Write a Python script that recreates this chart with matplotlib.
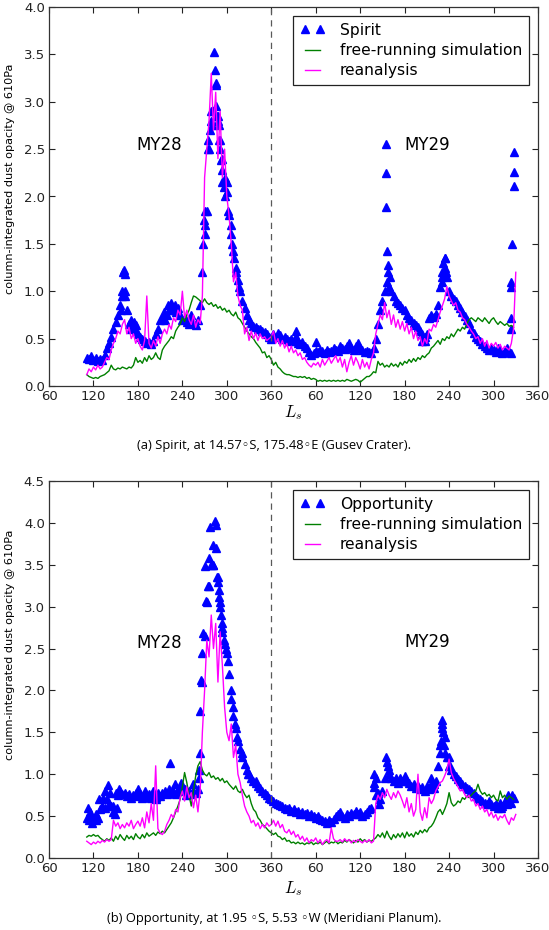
import numpy as np
import matplotlib
matplotlib.use("Agg")
import matplotlib.pyplot as plt

plt.rcParams['mathtext.fontset'] = 'cm'
plt.rcParams['font.family'] = ['DejaVu Sans']

# Ls grid: cumulative solar longitude (MY28 = Ls, MY29 = Ls + 360), sampled every 3 deg from 111
LS_START = 111
LS_STEP = 3

xtick_pos = [60, 120, 180, 240, 300, 360, 420, 480, 540, 600, 660, 720]
xtick_labels = ["60", "120", "180", "240", "300", "360", "60", "120", "180", "240", "300", "360"]

# ---------------- Spirit ----------------
spirit_obs = [
    0.30, 0.28, 0.32, 0.27, 0.30, 0.26, 0.29, 0.27, 0.33, 0.40,
    0.45, 0.52, 0.60, 0.68, 0.75, 0.85, 0.95, 1.00, 0.80, 0.65,
    0.60, 0.62, 0.58, 0.55, 0.52, 0.50, 0.47, 0.45, 0.46, 0.44,
    0.48, 0.55, 0.60, 0.70, 0.72, 0.70, 0.75, 0.80, 0.85, 0.80,
    0.78, 0.82, 0.75, 0.70, 0.72, 0.68, 0.65, 0.70, 0.66, 0.64,
    0.70, 0.85, 1.20, 1.60, 1.85, 2.50, 2.80, 2.90, 3.20, 2.85,
    2.60, 2.40, 2.20, 2.05, 1.80, 1.60, 1.42, 1.25, 1.12, 1.00,
    0.90, 0.82, 0.75, 0.70, 0.66, 0.63, 0.62, 0.60, 0.60, 0.58,
    0.57, 0.55, 0.52, 0.50, 0.55, 0.52, 0.56, 0.54, 0.50, 0.52,
    0.50, 0.48, 0.50, 0.47, 0.52, 0.45, 0.44, 0.46, 0.42, 0.40,
    0.36, 0.33, 0.35, 0.37, 0.36, 0.38, 0.37, 0.35, 0.38, 0.36,
    0.37, 0.40, 0.38, 0.37, 0.42, 0.40, 0.39, 0.42, 0.45, 0.40,
    0.38, 0.42, 0.45, 0.40, 0.38, 0.36, 0.37, 0.36, 0.35, 0.40,
    0.50, 0.65, 0.80, 0.90, 1.00, 1.10, 1.05, 1.00, 0.95, 0.90,
    0.88, 0.85, 0.82, 0.80, 0.75, 0.72, 0.70, 0.66, 0.64, 0.62,
    0.58, 0.55, 0.52, 0.55, 0.72, 0.75, 0.73, 0.76, 0.85, 1.05,
    1.15, 1.25, 1.15, 1.00, 0.95, 0.92, 0.90, 0.86, 0.82, 0.78,
    0.74, 0.70, 0.66, 0.60, 0.56, 0.52, 0.50, 0.47, 0.44, 0.42,
    0.40, 0.38, 0.40, 0.38, 0.36, 0.40, 0.38, 0.35, 0.37, 0.40,
    0.36, 0.35,
]
spirit_extra_ls = [158, 160, 161, 162, 163, 157, 170, 175, 178, 215, 220, 224, 230, 252,
                   268, 269, 270, 271, 274, 275, 277, 278, 280, 283, 284, 285, 286, 287,
                   288, 289, 290, 291, 292, 293, 294, 296, 298, 300, 301, 305, 307, 310,
                   313, 316,
                   393, 394, 421, 515, 515, 515, 516, 517, 518, 520, 590, 591, 592, 594,
                   595, 596, 564, 567, 683, 683, 684, 684, 685, 687, 687, 688]
spirit_extra_tau = [1.00, 1.20, 1.22, 1.18, 0.95, 0.80, 0.70, 0.68, 0.64, 0.78, 0.85, 0.88, 0.85, 0.75,
                    1.50, 1.75, 1.85, 1.70, 2.50, 2.60, 2.70, 2.90, 2.75, 3.52, 3.33, 3.18, 2.95, 2.85,
                    2.80, 2.75, 2.60, 2.50, 2.38, 2.28, 2.15, 2.10, 2.00, 2.15, 1.85, 1.70, 1.50, 1.35,
                    1.20, 1.05,
                    0.58, 0.52, 0.46, 2.55, 2.25, 1.89, 1.43, 1.28, 1.20, 1.15, 1.10, 1.20, 1.30, 1.35,
                    1.35, 1.20, 0.48, 0.48, 0.60, 0.72, 1.05, 1.10, 1.50, 2.47, 2.26, 2.11]
spirit_rean = [
    0.12, 0.18, 0.15, 0.20, 0.17, 0.22, 0.18, 0.20, 0.25, 0.30,
    0.28, 0.38, 0.45, 0.50, 0.58, 0.55, 0.65, 0.70, 0.55, 0.62,
    0.50, 0.55, 0.45, 0.50, 0.42, 0.38, 0.48, 0.95, 0.45, 0.40,
    0.48, 0.42, 0.52, 0.45, 0.55, 0.60, 0.55, 0.65, 0.60, 0.72,
    0.68, 0.80, 0.75, 1.00, 0.72, 0.80, 0.70, 0.65, 0.75, 0.62,
    0.70, 0.66, 0.95, 2.20, 2.50, 2.80, 3.30, 2.70, 3.10, 2.40,
    2.90, 2.20, 2.50, 2.00, 1.80, 1.50, 1.10, 1.20, 0.95, 0.85,
    0.80, 0.55, 0.62, 0.48, 0.58, 0.50, 0.56, 0.48, 0.55, 0.50,
    0.52, 0.48, 0.50, 0.52, 0.58, 0.45, 0.50, 0.42, 0.48, 0.40,
    0.45, 0.36, 0.42, 0.35, 0.38, 0.32, 0.35, 0.28, 0.30, 0.25,
    0.22, 0.20, 0.24, 0.22, 0.25, 0.20, 0.28, 0.22, 0.26, 0.30,
    0.24, 0.28, 0.32, 0.25, 0.30, 0.20, 0.28, 0.15, 0.25, 0.32,
    0.22, 0.30, 0.25, 0.18, 0.28, 0.20, 0.25, 0.18, 0.28, 0.35,
    0.55, 0.65, 0.75, 0.70, 0.88, 0.72, 0.80, 0.65, 0.75, 0.62,
    0.70, 0.60, 0.68, 0.58, 0.66, 0.55, 0.62, 0.50, 0.58, 0.48,
    0.52, 0.42, 0.50, 0.45, 0.60, 0.58, 0.65, 0.62, 0.70, 0.78,
    0.85, 0.92, 1.05, 0.95, 0.90, 0.85, 0.88, 0.80, 0.78, 0.72,
    0.70, 0.65, 0.62, 0.58, 0.55, 0.50, 0.52, 0.45, 0.50, 0.42,
    0.48, 0.40, 0.45, 0.42, 0.46, 0.40, 0.44, 0.38, 0.42, 0.40,
    0.38, 0.45, 0.60, 1.20,
]
spirit_free = [
    0.12, 0.10, 0.09, 0.08, 0.09, 0.08, 0.10, 0.11, 0.12, 0.14,
    0.16, 0.22, 0.18, 0.17, 0.19, 0.18, 0.20, 0.19, 0.18, 0.20,
    0.19, 0.22, 0.30, 0.25, 0.27, 0.24, 0.30, 0.26, 0.32, 0.28,
    0.30, 0.35, 0.30, 0.28, 0.38, 0.42, 0.45, 0.48, 0.52, 0.50,
    0.58, 0.62, 0.65, 0.72, 0.68, 0.75, 0.80, 0.88, 0.95, 0.94,
    0.92, 0.90, 0.88, 0.92, 0.88, 0.86, 0.88, 0.84, 0.86, 0.82,
    0.84, 0.80, 0.82, 0.78, 0.80, 0.76, 0.74, 0.78, 0.72, 0.70,
    0.66, 0.62, 0.58, 0.55, 0.52, 0.50, 0.46, 0.43, 0.40, 0.35,
    0.36, 0.30, 0.32, 0.28, 0.22, 0.25, 0.20, 0.18, 0.15, 0.13,
    0.12, 0.12, 0.11, 0.10, 0.10, 0.09, 0.10, 0.09, 0.10, 0.08,
    0.09, 0.07, 0.08, 0.07, 0.05, 0.06, 0.05, 0.06, 0.05, 0.06,
    0.05, 0.06, 0.05, 0.06, 0.05, 0.06, 0.05, 0.07, 0.06, 0.05,
    0.06, 0.07, 0.06, 0.04, 0.06, 0.08, 0.10, 0.10, 0.12, 0.15,
    0.14, 0.26, 0.22, 0.24, 0.20, 0.22, 0.20, 0.24, 0.21, 0.23,
    0.20, 0.25, 0.22, 0.26, 0.24, 0.28, 0.25, 0.29, 0.26, 0.30,
    0.28, 0.32, 0.30, 0.33, 0.35, 0.40, 0.42, 0.45, 0.48, 0.44,
    0.50, 0.48, 0.52, 0.50, 0.55, 0.52, 0.56, 0.60, 0.58, 0.62,
    0.60, 0.66, 0.70, 0.72, 0.70, 0.68, 0.72, 0.70, 0.68, 0.72,
    0.69, 0.66, 0.70, 0.72, 0.68, 0.65, 0.68, 0.66, 0.64, 0.66,
    0.63, 0.64, 0.62,
]

# ---------------- Opportunity ----------------
oppy_obs = [
    0.48, 0.45, 0.50, 0.46, 0.52, 0.48, 0.58, 0.62, 0.60, 0.70,
    0.65, 0.62, 0.55, 0.78, 0.75, 0.80, 0.76, 0.78, 0.74, 0.76,
    0.72, 0.75, 0.78, 0.74, 0.76, 0.72, 0.75, 0.73, 0.76, 0.72,
    0.75, 0.73, 0.77, 0.74, 0.78, 0.80, 0.76, 0.82, 0.78, 0.80,
    0.76, 0.82, 0.80, 0.85, 0.82, 0.78, 0.80, 0.76, 0.80, 0.78,
    0.82, 1.25, 2.10, 2.65, 3.05, 3.25, 3.50, 3.50, 3.70, 3.35,
    3.05, 2.75, 2.55, 2.45, 2.20, 1.90, 1.70, 1.55, 1.40, 1.30,
    1.20, 1.12, 1.05, 1.00, 0.95, 0.92, 0.90, 0.86, 0.84, 0.80,
    0.78, 0.75, 0.72, 0.70, 0.68, 0.66, 0.65, 0.63, 0.62, 0.60,
    0.58, 0.60, 0.56, 0.58, 0.55, 0.56, 0.53, 0.55, 0.52, 0.54,
    0.50, 0.52, 0.50, 0.48, 0.50, 0.47, 0.45, 0.44, 0.42, 0.45,
    0.43, 0.47, 0.50, 0.52, 0.55, 0.50, 0.48, 0.52, 0.50, 0.54,
    0.52, 0.56, 0.52, 0.55, 0.50, 0.53, 0.55, 0.58, 0.60, 0.85,
    0.95, 0.78, 0.70, 0.80, 0.95, 1.15, 1.05, 0.95, 0.92, 0.95,
    0.90, 0.95, 0.92, 0.98, 0.92, 0.90, 0.86, 0.88, 0.84, 0.86,
    0.82, 0.85, 0.80, 0.86, 0.82, 0.88, 0.84, 0.92, 1.10, 1.35,
    1.55, 1.45, 1.20, 1.10, 1.05, 1.00, 0.98, 0.94, 0.92, 0.88,
    0.86, 0.84, 0.82, 0.80, 0.78, 0.74, 0.72, 0.70, 0.68, 0.66,
    0.65, 0.68, 0.64, 0.62, 0.65, 0.60, 0.66, 0.62, 0.68, 0.64,
    0.70, 0.66, 0.72,
]
oppy_extra_ls = [113, 116, 118, 124, 128, 133, 135, 139, 142, 146, 149, 152, 155, 180, 190,
                 200, 205, 223, 230, 238, 245, 255, 262, 263, 264, 265, 266, 268, 270, 272,
                 275, 276, 277, 281, 282, 284, 285, 287, 288, 289, 290, 291, 292, 293, 294,
                 296, 299, 301, 305, 308, 311, 314, 320, 329, 340,
                 498, 499, 502, 506, 515, 517, 519, 575, 580, 590, 591, 592, 589, 588, 593,
                 594, 600, 601, 670, 680, 685]
oppy_extra_tau = [0.60, 0.55, 0.42, 0.45, 0.70, 0.72, 0.80, 0.87, 0.78, 0.62, 0.52, 0.60, 0.82, 0.82, 0.80,
                  0.80, 0.70, 1.13, 0.88, 0.90, 0.75, 0.88, 0.95, 1.05, 1.75, 2.13, 2.45, 2.68, 3.48, 3.07,
                  3.25, 3.58, 3.95, 3.50, 3.74, 4.02, 3.98, 3.35, 3.30, 3.20, 3.12, 3.00, 2.90, 2.80, 2.70,
                  2.60, 2.50, 2.35, 2.00, 1.80, 1.60, 1.45, 1.25, 1.00, 0.92,
                  1.00, 0.90, 0.75, 0.65, 1.21, 1.10, 1.00, 0.95, 0.88, 1.65, 1.60, 1.50, 1.40, 1.25, 1.35,
                  1.25, 1.20, 1.10, 0.60, 0.75, 0.75]
oppy_rean = [
    0.20, 0.18, 0.16, 0.19, 0.17, 0.20, 0.18, 0.21, 0.19, 0.22,
    0.20, 0.22, 0.45, 0.38, 0.42, 0.35, 0.40, 0.36, 0.42, 0.38,
    0.45, 0.35, 0.40, 0.44, 0.38, 0.48, 0.36, 0.55, 0.42, 0.65,
    0.45, 1.10, 0.35, 0.30, 0.28, 0.32, 0.40, 0.45, 0.52, 0.48,
    0.58, 0.55, 0.72, 0.80, 0.68, 0.85, 0.72, 0.78, 0.60, 0.75,
    0.55, 0.80, 1.50, 2.00, 2.60, 2.40, 2.90, 2.50, 2.80, 2.10,
    2.70, 2.30, 1.80, 1.50, 1.40, 1.60, 1.20, 1.35, 1.00, 0.90,
    0.75, 0.62, 0.55, 0.50, 0.42, 0.45, 0.38, 0.42, 0.35, 0.40,
    0.36, 0.42, 0.38, 0.40, 0.45, 0.38, 0.44, 0.36, 0.40, 0.32,
    0.30, 0.34, 0.28, 0.32, 0.25, 0.28, 0.22, 0.26, 0.20, 0.24,
    0.18, 0.22, 0.20, 0.24, 0.18, 0.22, 0.16, 0.20, 0.22, 0.18,
    0.36, 0.23, 0.20, 0.20, 0.22, 0.19, 0.23, 0.20, 0.22, 0.18,
    0.21, 0.19, 0.22, 0.20, 0.18, 0.21, 0.19, 0.22, 0.18, 0.20,
    0.65, 0.75, 0.70, 0.78, 0.72, 0.82, 0.75, 0.70, 0.78, 0.72,
    0.80, 0.75, 0.68, 0.60, 0.72, 0.55, 0.65, 0.50, 0.58, 1.00,
    0.55, 0.45, 0.60, 0.48, 0.72, 0.65, 0.70, 0.80, 0.85, 0.90,
    0.92, 0.98, 1.05, 1.18, 1.02, 0.95, 0.90, 0.85, 0.80, 0.82,
    0.76, 0.72, 0.75, 0.68, 0.70, 0.62, 0.65, 0.58, 0.62, 0.55,
    0.58, 0.50, 0.55, 0.48, 0.52, 0.45, 0.50, 0.48, 0.52, 0.45,
    0.40, 0.48, 0.45, 0.52,
]
oppy_free = [
    0.25, 0.27, 0.26, 0.28, 0.26, 0.27, 0.24, 0.22, 0.20, 0.23,
    0.21, 0.24, 0.20, 0.26, 0.22, 0.28, 0.24, 0.21, 0.27, 0.23,
    0.26, 0.22, 0.29, 0.25, 0.23, 0.28, 0.24, 0.30, 0.26, 0.28,
    0.30, 0.27, 0.31, 0.29, 0.32, 0.30, 0.34, 0.38, 0.42, 0.48,
    0.55, 0.62, 0.70, 0.85, 1.02, 0.90, 0.75, 0.62, 0.80, 0.98,
    1.10, 1.15, 1.05, 1.00, 0.98, 1.02, 0.96, 0.98, 0.94, 0.96,
    0.92, 0.95, 0.90, 0.92, 0.88, 0.85, 0.82, 0.86, 0.80, 0.78,
    0.82, 0.76, 0.72, 0.75, 0.65, 0.58, 0.55, 0.48, 0.45, 0.40,
    0.38, 0.35, 0.32, 0.30, 0.28, 0.30, 0.26, 0.25, 0.22, 0.24,
    0.20, 0.21, 0.18, 0.19, 0.17, 0.19, 0.17, 0.18, 0.16, 0.18,
    0.17, 0.19, 0.16, 0.18, 0.17, 0.19, 0.16, 0.18, 0.20, 0.17,
    0.19, 0.18, 0.20, 0.17, 0.19, 0.18, 0.21, 0.19, 0.22, 0.20,
    0.18, 0.21, 0.19, 0.23, 0.20, 0.22, 0.19, 0.21, 0.20, 0.22,
    0.24, 0.28, 0.25, 0.30, 0.24, 0.32, 0.26, 0.22, 0.28, 0.24,
    0.29, 0.25, 0.30, 0.24, 0.31, 0.26, 0.29, 0.25, 0.31, 0.28,
    0.33, 0.30, 0.34, 0.31, 0.36, 0.38, 0.42, 0.48, 0.55, 0.58,
    0.52, 0.58, 0.65, 0.78, 0.66, 0.62, 0.64, 0.68, 0.66, 0.72,
    0.70, 0.74, 0.72, 0.75, 0.78, 0.80, 0.88, 0.80, 0.76, 0.78,
    0.74, 0.76, 0.72, 0.75, 0.70, 0.68, 0.80, 0.72, 0.75, 0.70,
    0.74, 0.72, 0.70,
]

panels = [
    dict(name="Spirit", obs=spirit_obs, ex_ls=spirit_extra_ls, ex_tau=spirit_extra_tau,
         free=spirit_free, rean=spirit_rean, ymax=4.0,
         yticks=[0.0, 0.5, 1.0, 1.5, 2.0, 2.5, 3.0, 3.5, 4.0],
         caption="(a) Spirit, at 14.57\u25e6S, 175.48\u25e6E (Gusev Crater).",
         my28=(209, 2.54), my29=(570, 2.54), ylab_y=0.546),
    dict(name="Opportunity", obs=oppy_obs, ex_ls=oppy_extra_ls, ex_tau=oppy_extra_tau,
         free=oppy_free, rean=oppy_rean, ymax=4.5,
         yticks=[0.0, 0.5, 1.0, 1.5, 2.0, 2.5, 3.0, 3.5, 4.0, 4.5],
         caption="(b) Opportunity, at 1.95 \u25e6S, 5.53 \u25e6W (Meridiani Planum).",
         my28=(209, 2.57), my29=(570, 2.58), ylab_y=0.565),
]

W, H = 549, 930
fig = plt.figure(figsize=(W / 100, H / 100), dpi=100)
fig.patch.set_facecolor("white")

axes_px = [(49, 7, 538, 386), (49, 481, 538, 858)]
caption_y = [445, 918]
lsl_y = [413, 889]

def ls_axis(vals):
    return LS_START + LS_STEP * np.arange(len(vals))

for p, (l, t, r, b), cy, ly in zip(panels, axes_px, caption_y, lsl_y):
    ax = fig.add_axes([l / W, 1 - b / H, (r - l) / W, (b - t) / H])
    ax.plot(ls_axis(p["obs"]), p["obs"], linestyle="none", marker="^", ms=6,
            color="#0000ff", mec="#0000ff", label=p["name"])
    ax.plot(p["ex_ls"], p["ex_tau"], linestyle="none", marker="^", ms=6,
            color="#0000ff", mec="#0000ff")
    ax.plot(ls_axis(p["free"]), p["free"], color="#008000", lw=1.0,
            label="free-running simulation")
    ax.plot(ls_axis(p["rean"]), p["rean"], color="#ff00ff", lw=1.0, label="reanalysis")
    ax.axvline(360, color="0.35", ls=(0, (5, 4)), lw=0.9)
    ax.set_xlim(60, 720)
    ax.set_ylim(0, p["ymax"])
    ax.set_xticks(xtick_pos)
    ax.set_xticklabels(xtick_labels)
    ax.set_yticks(p["yticks"])
    ax.set_yticklabels([f"{v:.1f}" for v in p["yticks"]])
    ax.tick_params(direction="in", length=4, width=0.8, top=True, right=True,
                   labelsize=9.5, colors="#222222", pad=3)
    for s in ax.spines.values():
        s.set_linewidth(0.9)
        s.set_color("#333333")
    ax.set_ylabel("column-integrated dust opacity @ 610Pa", fontsize=8.1)
    ax.yaxis.set_label_coords(-0.0695, p["ylab_y"])
    ax.text(p["my28"][0], p["my28"][1], "MY28", fontsize=12, ha="center", va="center")
    ax.text(p["my29"][0], p["my29"][1], "MY29", fontsize=12, ha="center", va="center")
    leg = ax.legend(loc="upper right", numpoints=2, fontsize=11.2, fancybox=False,
                    framealpha=1, edgecolor="#222222", borderpad=0.45, labelspacing=0.35,
                    handlelength=1.55, handletextpad=1.0, borderaxespad=0.55)
    leg.get_frame().set_linewidth(0.9)
    fig.text(293 / W, 1 - ly / H, "$L_s$", fontsize=12, ha="center", va="center")
    fig.text(274 / W, 1 - cy / H, p["caption"], fontsize=9.3, ha="center", va="center",
             family=["Open Sans", "DejaVu Sans"])

fig.savefig("out.png", dpi=100, facecolor="white")
